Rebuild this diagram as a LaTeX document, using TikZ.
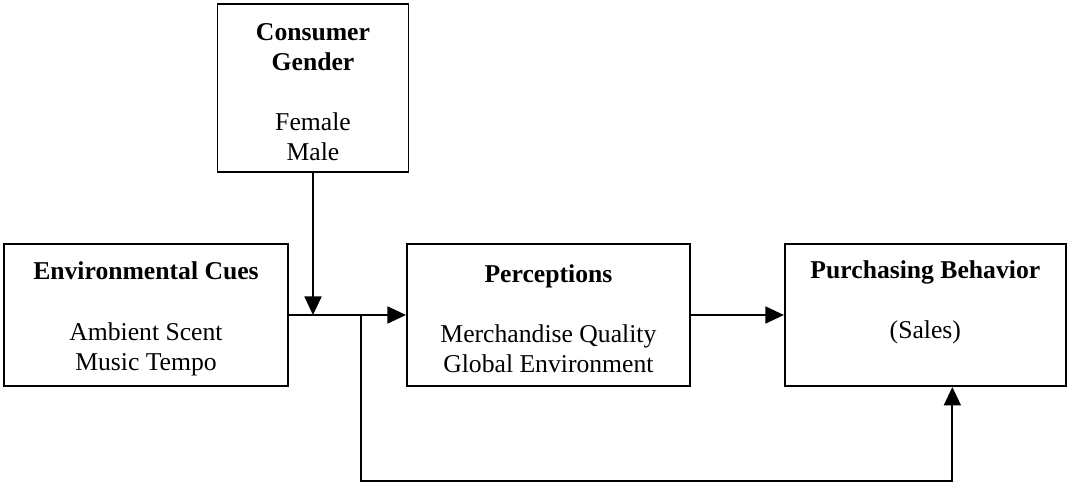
\documentclass[tikz,border=0pt]{standalone}
\usepackage{fontspec}
\setmainfont{Liberation Serif}
\usetikzlibrary{arrows.meta, positioning, calc}
% bold heading line with a little extra room above it
\newcommand{\boxtitle}[1]{\rule{0pt}{14.5pt}\textbf{#1}}

\begin{document}
\begin{tikzpicture}[
        node distance=2.34cm,
        box/.style={rectangle, draw=black, fill=white, line width=1.1pt, minimum height=2.84cm, align=center, inner sep=0pt, font=\fontsize{14.6}{17.1}\selectfont},
        flow/.style={-{Triangle[length=0.37cm, width=0.34cm]}, line width=1pt}
    ]
        \useasboundingbox (0,0) rectangle (21.38,-9.68);

        % Main chain
        \node[box, minimum width=5.68cm] (cues) at (2.92,-6.30) {\boxtitle{Environmental Cues}\\[17.1pt] Ambient Scent\\ Music Tempo};
        \node[box, minimum width=5.66cm, right=of cues] (percep) {\boxtitle{Perceptions}\\[17.1pt] Merchandise Quality\\ Global Environment};
        \node[box, minimum width=5.62cm, right=1.86cm of percep] (sales) {\boxtitle{Purchasing Behavior}\\[17.1pt] (Sales)\\ \strut};

        % Moderator
        \node[box, minimum width=3.82cm, minimum height=3.36cm] (gender) at (6.26,-1.76) {\boxtitle{Consumer}\\ \textbf{Gender}\\[17.1pt] Female\\ Male};

        % Connections
        \coordinate[right=1.44cm of cues.east] (split);
        \coordinate[below=1.88cm of sales.south, xshift=0.54cm] (bypass);
        \draw[flow] (cues) -- (percep);
        \draw[flow] (gender) -- (gender |- cues.east);
        \draw[flow] (percep) -- (sales);
        \draw[flow] (split) |- (bypass) -- (bypass |- sales.south);
    \end{tikzpicture}
\end{document}
